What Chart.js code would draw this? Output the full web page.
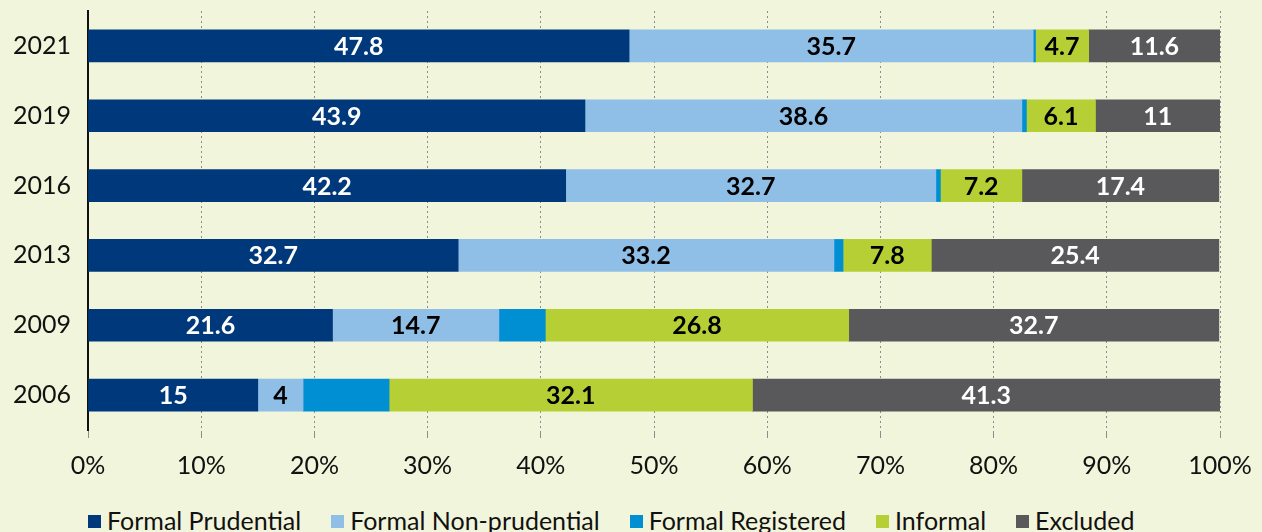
<!DOCTYPE html>
<html>
<head>
<meta charset="utf-8">
<script src="https://cdn.jsdelivr.net/npm/chart.js@4"></script>
<style>
    html, body { margin: 0; padding: 0; background: #f1f5db; }
    #wrap { width: 1262px; height: 494px; position: relative; }
    #legend {
        display: flex;
        padding-left: 88px;
        height: 38px;
        align-items: center;
        padding-top: 14px;
        box-sizing: border-box;
        font-family: Lato, "Noto Sans", sans-serif;
        font-size: 25px;
        color: #111;
    }
    .item { display: flex; align-items: center; margin-right: 30px; }
    .swatch { width: 13px; height: 13px; margin-right: 6px; margin-top: 2px; }
</style>
</head>
<body>
<div id="wrap"><canvas id="myChart"></canvas></div>
<div id="legend"></div>
<script>
// Years (top to bottom)
const years = ['2021', '2019', '2016', '2013', '2009', '2006'];

// Series values, percent of adults
const formalPrudential = [47.8, 43.9, 42.2, 32.7, 21.6, 15];
const formalNonPrudential = [35.7, 38.6, 32.7, 33.2, 14.7, 4];
const formalRegistered = [0.2, 0.4, 0.4, 0.8, 4.1, 7.6];
const informal = [4.7, 6.1, 7.2, 7.8, 26.8, 32.1];
const excluded = [11.6, 11, 17.4, 25.4, 32.7, 41.3];

const xTicks = [0, 10, 20, 30, 40, 50, 60, 70, 80, 90, 100];

const fontFamily = 'Lato, "Noto Sans", sans-serif';

// Draw the value inside each segment (no label for Formal Registered)
const segmentLabels = {
    id: 'segmentLabels',
    afterDatasetsDraw(chart) {
        const ctx = chart.ctx;
        ctx.save();
        ctx.font = 'bold 25px ' + fontFamily;
        ctx.textAlign = 'center';
        ctx.textBaseline = 'middle';
        chart.data.datasets.forEach((ds, i) => {
            if (!ds.labelColor) return;
            const meta = chart.getDatasetMeta(i);
            meta.data.forEach((bar, j) => {
                ctx.fillStyle = ds.labelColor;
                ctx.fillText(String(ds.data[j]), (bar.x + bar.base) / 2, bar.y + 1);
            });
        });
        ctx.restore();
    }
};

const chart = new Chart(document.getElementById('myChart'), {
    type: 'bar',
    data: {
        labels: years,
        datasets: [
            { label: 'Formal Prudential', data: formalPrudential, backgroundColor: '#00397b', labelColor: '#ffffff' },
            { label: 'Formal Non-prudential', data: formalNonPrudential, backgroundColor: '#8fbee6', labelColor: '#000000' },
            { label: 'Formal Registered', data: formalRegistered, backgroundColor: '#008fd3', labelColor: null },
            { label: 'Informal', data: informal, backgroundColor: '#b5cf35', labelColor: '#000000' },
            { label: 'Excluded', data: excluded, backgroundColor: '#59585a', labelColor: '#ffffff' }
        ]
    },
    options: {
        indexAxis: 'y',
        responsive: true,
        maintainAspectRatio: false,
        animation: false,
        barThickness: 32,
        layout: { padding: { top: 11, left: 4, right: 42, bottom: 0 } },
        scales: {
            x: {
                stacked: true,
                min: 0,
                max: 100,
                afterBuildTicks: axis => { axis.ticks = xTicks.map(v => ({ value: v })); },
                afterFit: s => { s.paddingLeft = 0; s.paddingRight = 0; },
                ticks: {
                    callback: v => v + '%',
                    color: '#111',
                    font: { family: fontFamily, size: 25 },
                    padding: 13
                },
                grid: {
                    color: '#8c8c8c',
                    lineWidth: 1,
                    tickLength: 8
                },
                border: { display: true, color: 'rgba(0,0,0,0)', dash: [2, 3] }
            },
            y: {
                stacked: true,
                afterFit: s => { s.paddingTop = 0; s.paddingBottom = 0; },
                ticks: {
                    color: '#111',
                    font: { family: fontFamily, size: 25 },
                    padding: 9
                },
                grid: { display: false },
                border: { display: true, color: '#111', width: 2 }
            }
        },
        plugins: {
            legend: { display: false },
            tooltip: { enabled: false }
        }
    },
    plugins: [segmentLabels]
});

// Legend below the chart, built from the datasets
const legendEl = document.getElementById('legend');
chart.data.datasets.forEach(ds => {
    const item = document.createElement('div');
    item.className = 'item';
    const sw = document.createElement('span');
    sw.className = 'swatch';
    sw.style.background = ds.backgroundColor;
    const txt = document.createElement('span');
    txt.textContent = ds.label;
    item.appendChild(sw);
    item.appendChild(txt);
    legendEl.appendChild(item);
});
</script>
</body>
</html>
